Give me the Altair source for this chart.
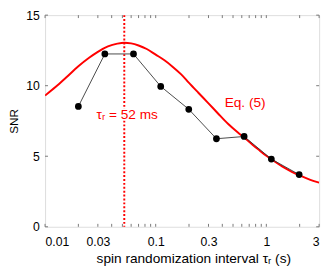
import altair as alt
import pandas as pd

# Eq. (5) curve
curve_tau = [0.01, 0.0125, 0.0155, 0.02, 0.025, 0.03, 0.037, 0.045, 0.052, 0.06,
             0.07, 0.083, 0.1, 0.12, 0.142, 0.17, 0.2, 0.243, 0.3, 0.364,
             0.45, 0.55, 0.63, 0.75, 0.85, 1.0, 1.16, 1.4, 1.7, 2.0, 2.5, 3.0]
curve_snr = [9.3, 9.92, 10.58, 11.38, 11.98, 12.4, 12.78, 12.98, 13.05, 13.0,
             12.85, 12.6, 12.2, 11.8, 11.35, 10.8, 10.2, 9.5, 8.75, 8.05,
             7.3, 6.7, 6.33, 5.82, 5.47, 5.03, 4.68, 4.26, 3.9, 3.64, 3.33, 3.13]

# measured points
meas_tau = [0.02, 0.0347, 0.063, 0.111, 0.199, 0.354, 0.63, 1.11, 1.98]
meas_snr = [8.53, 12.25, 12.25, 9.95, 8.33, 6.24, 6.4, 4.8, 3.7]

tau_opt = [0.052]
x_labels = [0.01, 0.03, 0.1, 0.3, 1, 3]
x_ticks = [0.01, 0.02, 0.03, 0.04, 0.05, 0.06, 0.07, 0.08, 0.09,
           0.1, 0.2, 0.3, 0.4, 0.5, 0.6, 0.7, 0.8, 0.9, 1, 2, 3]
y_ticks = [0, 5, 10, 15]

ann_text = ["τᵣ = 52 ms", "Eq. (5)"]
ann_tau = [0.0292, 0.42]
ann_snr = [7.95, 8.8]

W, H = 281, 217
TICK = 3
FONT = "Liberation Sans"
RED = "#ff0000"
TICKCOLOR = "#777777"

curve_df = pd.DataFrame({"tau": curve_tau, "snr": curve_snr})
meas_df = pd.DataFrame({"tau": meas_tau, "snr": meas_snr})
opt_df = pd.DataFrame({"tau": tau_opt})
ann_df = pd.DataFrame({"tau": ann_tau, "snr": ann_snr, "text": ann_text})
xt_df = pd.DataFrame({"tau": x_ticks})
yt_df = pd.DataFrame({"snr": y_ticks})

xscale = alt.Scale(type="log", domain=[0.01, 3], nice=False)
yscale = alt.Scale(domain=[0, 15], nice=False)

x_axis = alt.Axis(values=x_labels, orient="bottom", ticks=False, tickSize=0, domain=False, grid=False,
                  labelFontSize=12.5, labelFont=FONT, labelColor="black", labelPadding=9,
                  labelExpr="datum.value >= 1 ? format(datum.value, 'd') : format(datum.value, '.2~f')",
                  title="spin randomization interval τᵣ (s)", titleFont=FONT, titleFontSize=14,
                  titleFontWeight="normal", titleColor="black", titlePadding=4, titleX=152)
y_axis = alt.Axis(values=y_ticks, orient="left", ticks=False, tickSize=0, domain=False, grid=False,
                  labelFontSize=12.5, labelFont=FONT, labelColor="black", labelPadding=6,
                  title="SNR", titleFont=FONT, titleFontSize=12, titleFontWeight="normal",
                  titleColor="black", titlePadding=5)

X = alt.X("tau:Q", scale=xscale, axis=x_axis)
Y = alt.Y("snr:Q", scale=yscale, axis=y_axis)

curve = alt.Chart(curve_df).mark_line(color=RED, strokeWidth=2, interpolate="monotone", clip=True).encode(
    x=X, y=Y)

# inward ticks on all four sides
tick_bottom = alt.Chart(xt_df).mark_rule(color=TICKCOLOR, strokeWidth=1).encode(
    x=X, y=alt.value(H - TICK), y2=alt.value(H))
tick_top = alt.Chart(xt_df).mark_rule(color=TICKCOLOR, strokeWidth=1).encode(
    x=X, y=alt.value(0), y2=alt.value(TICK))
tick_left = alt.Chart(yt_df).mark_rule(color=TICKCOLOR, strokeWidth=1).encode(
    y=Y, x=alt.value(0), x2=alt.value(TICK))
tick_right = alt.Chart(yt_df).mark_rule(color=TICKCOLOR, strokeWidth=1).encode(
    y=Y, x=alt.value(W - TICK), x2=alt.value(W))

vline = alt.Chart(opt_df).mark_rule(color=RED, strokeWidth=2, strokeDash=[2, 2]).encode(
    x=X, y=alt.value(0), y2=alt.value(H))

meas_line = alt.Chart(meas_df).mark_line(color="#333333", strokeWidth=0.9).encode(x=X, y=Y)

pts = alt.Chart(meas_df).mark_circle(color="black", size=48, opacity=1).encode(x=X, y=Y)

ann_halo = alt.Chart(ann_df).mark_text(color="white", stroke="white", strokeWidth=3, fontSize=14, font=FONT,
                                       align="left", baseline="middle").encode(x=X, y=Y, text="text:N")
ann = alt.Chart(ann_df).mark_text(color=RED, fontSize=14, font=FONT, align="left", baseline="middle").encode(
    x=X, y=Y, text="text:N")

chart = alt.layer(
    curve, tick_bottom, tick_top, tick_left, tick_right, vline, meas_line, pts, ann_halo, ann
).properties(
    width=W, height=H,
    autosize=alt.AutoSizeParams(type="none"),
    padding={"left": 38, "top": 4, "right": 5, "bottom": 42},
).configure_view(stroke="black", strokeWidth=1.2).configure(background="white")

chart.save("out.html", embed_options={"renderer": "svg", "actions": False})
